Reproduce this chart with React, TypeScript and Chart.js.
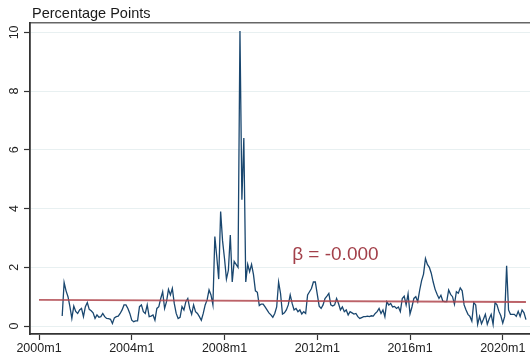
import React, { useEffect, useRef } from 'react';
import { Chart, registerables } from 'chart.js';

Chart.register(...registerables);

const FONT = '"Liberation Sans", Arial, Helvetica, sans-serif';
const TITLE = 'Percentage Points';
const ANNOTATION = 'β = -0.000';
const ANNOTATION_AT = { x: 131, y: 2.42 };

// months counted from 2000m1 (= 0); series starts 2001m1
const firstMonth = 12;
const y2001 = [0.34, 1.48, 1.2, 1.0, 0.66, 0.26, 0.68, 0.5, 0.43, 0.55, 0.6, 0.32];
const y2002 = [0.66, 0.8, 0.57, 0.52, 0.45, 0.26, 0.38, 0.3, 0.32, 0.43, 0.32, 0.26];
const y2003 = [0.25, 0.23, 0.09, 0.28, 0.32, 0.34, 0.43, 0.55, 0.72, 0.72, 0.6, 0.43];
const y2004 = [0.2, 0.15, 0.18, 0.18, 0.66, 0.72, 0.49, 0.43, 0.72, 0.32, 0.34, 0.38];
const y2005 = [0.2, 0.6, 0.66, 0.94, 1.17, 0.6, 0.83, 1.25, 1.06, 1.28, 0.77, 0.43];
const y2006 = [0.26, 0.3, 0.66, 0.55, 0.83, 0.94, 0.6, 0.4, 0.72, 0.49, 0.43, 0.32];
const y2007 = [0.2, 0.43, 0.72, 0.89, 1.23, 1.06, 0.72, 3.05, 2.36, 1.6, 3.9, 2.9];
const y2008 = [2.3, 1.6, 1.9, 3.1, 1.5, 2.2, 2.1, 2.0, 10.05, 4.3, 6.4, 1.5];
const y2009 = [2.1, 1.85, 2.1, 1.75, 1.2, 1.15, 0.7, 0.75, 0.75, 0.65, 0.55, 0.45];
const y2010 = [0.38, 0.3, 0.43, 0.65, 1.5, 1.11, 0.41, 0.45, 0.55, 0.72, 1.06, 0.77];
const y2011 = [0.55, 0.6, 0.49, 0.55, 0.41, 0.49, 0.43, 1.06, 1.17, 1.28, 1.5, 1.5];
const y2012 = [1.09, 0.68, 0.6, 0.72, 0.94, 1.02, 1.11, 0.72, 0.68, 0.72, 0.94, 0.77];
const y2013 = [0.55, 0.65, 0.49, 0.55, 0.38, 0.49, 0.45, 0.41, 0.43, 0.32, 0.26, 0.29];
const y2014 = [0.32, 0.32, 0.34, 0.32, 0.35, 0.34, 0.43, 0.49, 0.6, 0.43, 0.55, 0.32];
const y2015 = [0.83, 0.72, 0.77, 0.65, 0.67, 0.6, 0.65, 0.49, 0.94, 1.02, 0.72, 1.1];
const y2016 = [0.41, 0.65, 0.94, 1.0, 0.83, 1.22, 1.55, 1.77, 2.3, 2.1, 2.0, 1.8];
const y2017 = [1.5, 1.25, 1.08, 0.94, 1.05, 0.85, 0.83, 0.83, 1.23, 1.08, 1.0, 0.74];
const y2018 = [1.17, 1.12, 1.3, 1.2, 0.72, 0.55, 0.4, 0.33, 0.17, 0.8, 0.72, 0.06];
const y2019 = [0.33, 0.08, 0.23, 0.4, 0.06, 0.25, 0.4, 0.06, 0.8, 0.72, 0.5, 0.35];
const y2020 = [0.1, 0.33, 2.05, 0.55, 0.4, 0.4, 0.4, 0.33, 0.5, 0.33, 0.55, 0.45];
const y2021 = [0.22];

const values = [
  ...y2001, ...y2002, ...y2003, ...y2004, ...y2005, ...y2006, ...y2007,
  ...y2008, ...y2009, ...y2010, ...y2011, ...y2012, ...y2013, ...y2014,
  ...y2015, ...y2016, ...y2017, ...y2018, ...y2019, ...y2020, ...y2021,
];

// fitted line
const fitMonths = [0, 252];
const fitValues = [0.89, 0.82];

const xTickMonths = [0, 48, 96, 144, 192, 240];
const xTickLabels = ['2000m1', '2004m1', '2008m1', '2012m1', '2016m1', '2020m1'];
const yTickValues = [0, 2, 4, 6, 8, 10];

const textPlugin = {
  id: 'stataTexts',
  afterDatasetsDraw(chart: any) {
    const { ctx, scales } = chart;
    ctx.save();
    ctx.font = `14.5px ${FONT}`;
    ctx.fillStyle = '#1a1a1a';
    ctx.textAlign = 'left';
    ctx.textBaseline = 'alphabetic';
    ctx.fillText(TITLE, 32, 17.5);
    ctx.font = `19px ${FONT}`;
    ctx.fillStyle = '#a3404a';
    ctx.textBaseline = 'middle';
    ctx.fillText(
      ANNOTATION,
      scales.x.getPixelForValue(ANNOTATION_AT.x),
      scales.y.getPixelForValue(ANNOTATION_AT.y)
    );
    ctx.restore();
  },
};

export default function App() {
  const ref = useRef<HTMLCanvasElement>(null);

  useEffect(() => {
    if (!ref.current) return;
    const chart = new Chart(ref.current, {
      type: 'line',
      data: {
        datasets: [
          {
            data: fitMonths.map((m, i) => ({ x: m, y: fitValues[i] })),
            borderColor: 'rgba(176, 70, 78, 0.85)',
            borderWidth: 1.8,
            pointRadius: 0,
            order: 0,
          },
          {
            data: values.map((v, i) => ({ x: firstMonth + i, y: v })),
            borderColor: '#1a476f',
            borderWidth: 1.3,
            pointRadius: 0,
            tension: 0,
            order: 1,
          },
        ],
      },
      options: {
        animation: false,
        responsive: false,
        devicePixelRatio: 1,
        layout: { padding: { top: 23, left: 0, right: 0, bottom: 0 } },
        plugins: { legend: { display: false }, tooltip: { enabled: false }, title: { display: false } },
        scales: {
          x: {
            type: 'linear',
            min: -4.66,
            max: 254.1,
            afterBuildTicks: (s: any) => {
              s.ticks = xTickMonths.map((v) => ({ value: v }));
            },
            afterFit: (s: any) => {
              s.height = 20;
            },
            ticks: {
              autoSkip: false,
              minRotation: 0,
              maxRotation: 0,
              padding: 1,
              color: '#222',
              font: { size: 12.5, family: FONT },
              callback: (v: any) => {
                const k = xTickMonths.indexOf(Number(v));
                return k >= 0 ? xTickLabels[k] : '';
              },
            },
            grid: { display: true, drawOnChartArea: false, drawTicks: true, tickLength: 6, tickColor: '#333', tickWidth: 1.2 },
            border: { display: true, color: '#333', width: 1.8 },
          },
          x2: {
            type: 'linear',
            position: 'top',
            display: true,
            ticks: { display: false },
            grid: { display: false, drawTicks: false },
            border: { display: true, color: '#666', width: 1.5 },
            afterFit: (s: any) => {
              s.height = 0;
            },
          },
          y: {
            type: 'linear',
            min: -0.27,
            max: 10.32,
            afterBuildTicks: (s: any) => {
              s.ticks = yTickValues.map((v) => ({ value: v }));
            },
            afterFit: (s: any) => {
              s.width = 30;
            },
            ticks: {
              minRotation: 90,
              maxRotation: 90,
              crossAlign: 'center',
              padding: 3,
              color: '#222',
              font: { size: 12.5, family: FONT },
            },
            grid: { color: '#e8f0f1', lineWidth: 1, tickColor: '#333', tickLength: 6, tickWidth: 1.2, drawTicks: true },
            border: { display: true, color: '#333', width: 1.8 },
          },
        },
      } as any,
      plugins: [textPlugin],
    });
    return () => chart.destroy();
  }, []);

  return (
    <div style={{ position: 'fixed', left: 0, top: 0, width: 530, height: 354, background: '#fff' }}>
      <canvas ref={ref} width={530} height={354} style={{ display: 'block' }} />
    </div>
  );
}
